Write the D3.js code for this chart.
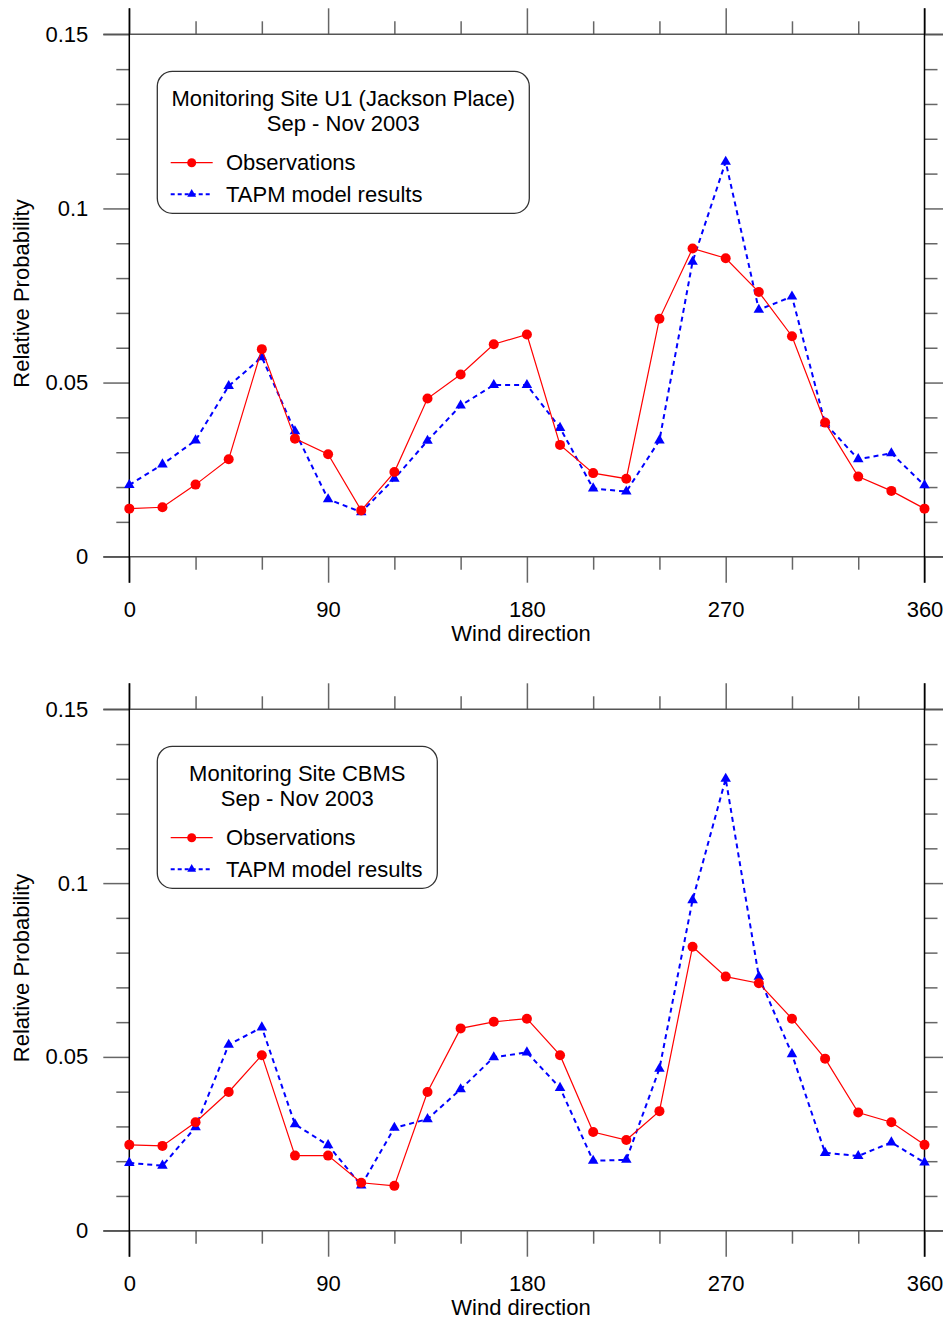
<!DOCTYPE html>
<html>
<head>
<meta charset="utf-8">
<script src="https://cdn.jsdelivr.net/npm/d3@7"></script>
<style>
  body { margin: 0; background: #fff; }
  svg text { font-family: Arial, "Liberation Sans", sans-serif; fill: #000; }
</style>
</head>
<body>
<svg id="chart" width="943" height="1320"></svg>
<script>
const svg = d3.select("#chart");

// wind direction bins (degrees)
const directions = d3.range(0, 361, 15);

// Monitoring Site U1 (Jackson Place)
const u1Obs = [0.0138, 0.0142, 0.0207, 0.0280, 0.0596, 0.0339, 0.0294, 0.0133, 0.0243, 0.0454, 0.0523, 0.0610, 0.0638,
  0.0321, 0.0240, 0.0224, 0.0683, 0.0885, 0.0857, 0.0760, 0.0633, 0.0385, 0.0230, 0.0189, 0.0138];
const u1Tapm = [0.0206, 0.0265, 0.0334, 0.0490, 0.0573, 0.0360, 0.0165, 0.0128, 0.0224, 0.0333, 0.0434, 0.0493, 0.0493,
  0.0370, 0.0196, 0.0187, 0.0334, 0.0847, 0.1134, 0.0709, 0.0747, 0.0383, 0.0280, 0.0297, 0.0205];

// Monitoring Site CBMS
const cbmsObs = [0.0247, 0.0244, 0.0312, 0.0399, 0.0505, 0.0216, 0.0216, 0.0138, 0.0129, 0.0399, 0.0582, 0.0601, 0.0610,
  0.0505, 0.0284, 0.0261, 0.0344, 0.0817, 0.0731, 0.0712, 0.0610, 0.0495, 0.0340, 0.0312, 0.0247];
const cbmsTapm = [0.0195, 0.0187, 0.0298, 0.0535, 0.0585, 0.0306, 0.0246, 0.0130, 0.0296, 0.0321, 0.0407, 0.0499, 0.0513,
  0.0411, 0.0201, 0.0204, 0.0466, 0.0951, 0.1300, 0.0731, 0.0508, 0.0224, 0.0215, 0.0254, 0.0196];

const xTicksMinor = d3.range(30, 360, 30).filter((d) => d % 90 !== 0);
const xTicksMajor = [0, 90, 180, 270, 360];
const yTicksMinor = d3.range(1, 15).map((d) => d / 100).filter((d) => Math.round(d * 100) % 5 !== 0);
const yTicksMajor = [0, 0.05, 0.1, 0.15];

const panels = [
  { title: ["Monitoring Site U1 (Jackson Place)", "Sep - Nov 2003"], obs: u1Obs, tapm: u1Tapm, top: 34.3, bottom: 556.7, boxW: 372 },
  { title: ["Monitoring Site CBMS", "Sep - Nov 2003"], obs: cbmsObs, tapm: cbmsTapm, top: 709.3, bottom: 1230.7, boxW: 280 },
];

const left = 129.3, right = 924.5;
const x = d3.scaleLinear().domain([0, 360]).range([left, right]);
const tickCol = "#666";
const fs = "22px";

panels.forEach((p) => {
  const y = d3.scaleLinear().domain([0, 0.15]).range([p.bottom, p.top]);
  const g = svg.append("g");

  // minor / major ticks, all four sides
  const axes = [
    [d3.axisBottom(x).tickValues(xTicksMinor).tickSize(13).tickFormat(""), p.bottom],
    [d3.axisTop(x).tickValues(xTicksMinor).tickSize(13).tickFormat(""), p.top],
    [d3.axisBottom(x).tickValues(xTicksMajor).tickSize(26).tickPadding(19).tickFormat((d) => d), p.bottom],
    [d3.axisTop(x).tickValues(xTicksMajor).tickSize(26).tickFormat(""), p.top],
  ];
  axes.forEach(([ax, ty]) => {
    g.append("g").attr("transform", `translate(0,${ty})`).call(ax);
  });
  const yAxes = [
    [d3.axisLeft(y).tickValues(yTicksMinor).tickSize(13).tickFormat(""), left],
    [d3.axisRight(y).tickValues(yTicksMinor).tickSize(13).tickFormat(""), right],
    [d3.axisLeft(y).tickValues(yTicksMajor).tickSize(26).tickPadding(15).tickFormat((d) => String(+d.toFixed(2))), left],
    [d3.axisRight(y).tickValues(yTicksMajor).tickSize(26).tickFormat(""), right],
  ];
  yAxes.forEach(([ax, tx]) => {
    g.append("g").attr("transform", `translate(${tx},0)`).call(ax);
  });

  g.selectAll(".domain").remove();
  g.selectAll(".tick line").attr("stroke", tickCol).attr("stroke-width", 1.5);
  g.selectAll(".tick text").style("font-size", fs).attr("fill", "#000");

  // frame: grey horizontal lines at 0 and 0.15, black verticals at 0 and 360
  [0, 0.15].forEach((d) => {
    g.append("line")
      .attr("x1", left - 26).attr("x2", right + 26)
      .attr("y1", y(d)).attr("y2", y(d))
      .attr("stroke", "#555").attr("stroke-width", 1.5);
  });
  [0, 360].forEach((d) => {
    g.append("line")
      .attr("x1", x(d)).attr("x2", x(d))
      .attr("y1", p.top - 26).attr("y2", p.bottom + 26)
      .attr("stroke", "#000").attr("stroke-width", 1.5);
  });

  // axis titles
  g.append("text")
    .attr("x", 521).attr("y", p.bottom + 84)
    .attr("text-anchor", "middle")
    .style("font-size", fs)
    .text("Wind direction");
  g.append("text")
    .attr("transform", `translate(29,${(p.top + p.bottom) / 2 - 2}) rotate(-90)`)
    .attr("text-anchor", "middle")
    .style("font-size", fs)
    .text("Relative Probability");

  const line = d3.line().x((d, i) => x(directions[i])).y((d) => y(d));

  // model results (blue, dashed, triangles)
  g.append("path").datum(p.tapm)
    .attr("d", line).attr("fill", "none")
    .attr("stroke", "#0000ff").attr("stroke-width", 2).attr("stroke-dasharray", "5,4");
  g.selectAll(".tri").data(p.tapm).enter().append("path")
    .attr("class", "tri")
    .attr("d", d3.symbol(d3.symbolTriangle).size(48))
    .attr("transform", (d, i) => `translate(${x(directions[i])},${y(d)})`)
    .attr("fill", "#0000ff");

  // observations (red, solid, circles)
  g.append("path").datum(p.obs)
    .attr("d", line).attr("fill", "none")
    .attr("stroke", "#ff0000").attr("stroke-width", 1.2);
  g.selectAll(".dot").data(p.obs).enter().append("circle")
    .attr("class", "dot")
    .attr("cx", (d, i) => x(directions[i]))
    .attr("cy", (d) => y(d))
    .attr("r", 5)
    .attr("fill", "#ff0000");

  // legend
  const bx = 157.3, by = p.top + 37;
  const leg = g.append("g").attr("transform", `translate(${bx},${by})`);
  leg.append("rect")
    .attr("width", p.boxW).attr("height", 142)
    .attr("rx", 15).attr("ry", 15)
    .attr("fill", "#fff").attr("stroke", "#333").attr("stroke-width", 1.3);
  p.title.forEach((t, i) => {
    leg.append("text")
      .attr("x", p.boxW / 2).attr("y", 34.5 + i * 25.5)
      .attr("text-anchor", "middle")
      .style("font-size", fs)
      .text(t);
  });
  const items = [
    { label: "Observations", color: "#ff0000", dash: null, w: 1.2, marker: "circle" },
    { label: "TAPM model results", color: "#0000ff", dash: "4,3", w: 2, marker: "tri" },
  ];
  items.forEach((it, i) => {
    const ly = 91.4 + i * 31.5;
    leg.append("line")
      .attr("x1", 13.4).attr("x2", 55.4).attr("y1", ly).attr("y2", ly)
      .attr("stroke", it.color).attr("stroke-width", it.w)
      .attr("stroke-dasharray", it.dash);
    if (it.marker === "circle") {
      leg.append("circle").attr("cx", 34.4).attr("cy", ly).attr("r", 4.5).attr("fill", it.color);
    } else {
      leg.append("path")
        .attr("d", d3.symbol(d3.symbolTriangle).size(34))
        .attr("transform", `translate(34.4,${ly})`)
        .attr("fill", it.color);
    }
    leg.append("text")
      .attr("x", 68.7).attr("y", ly + 7.5)
      .style("font-size", fs)
      .text(it.label);
  });
});
</script>
</body>
</html>
